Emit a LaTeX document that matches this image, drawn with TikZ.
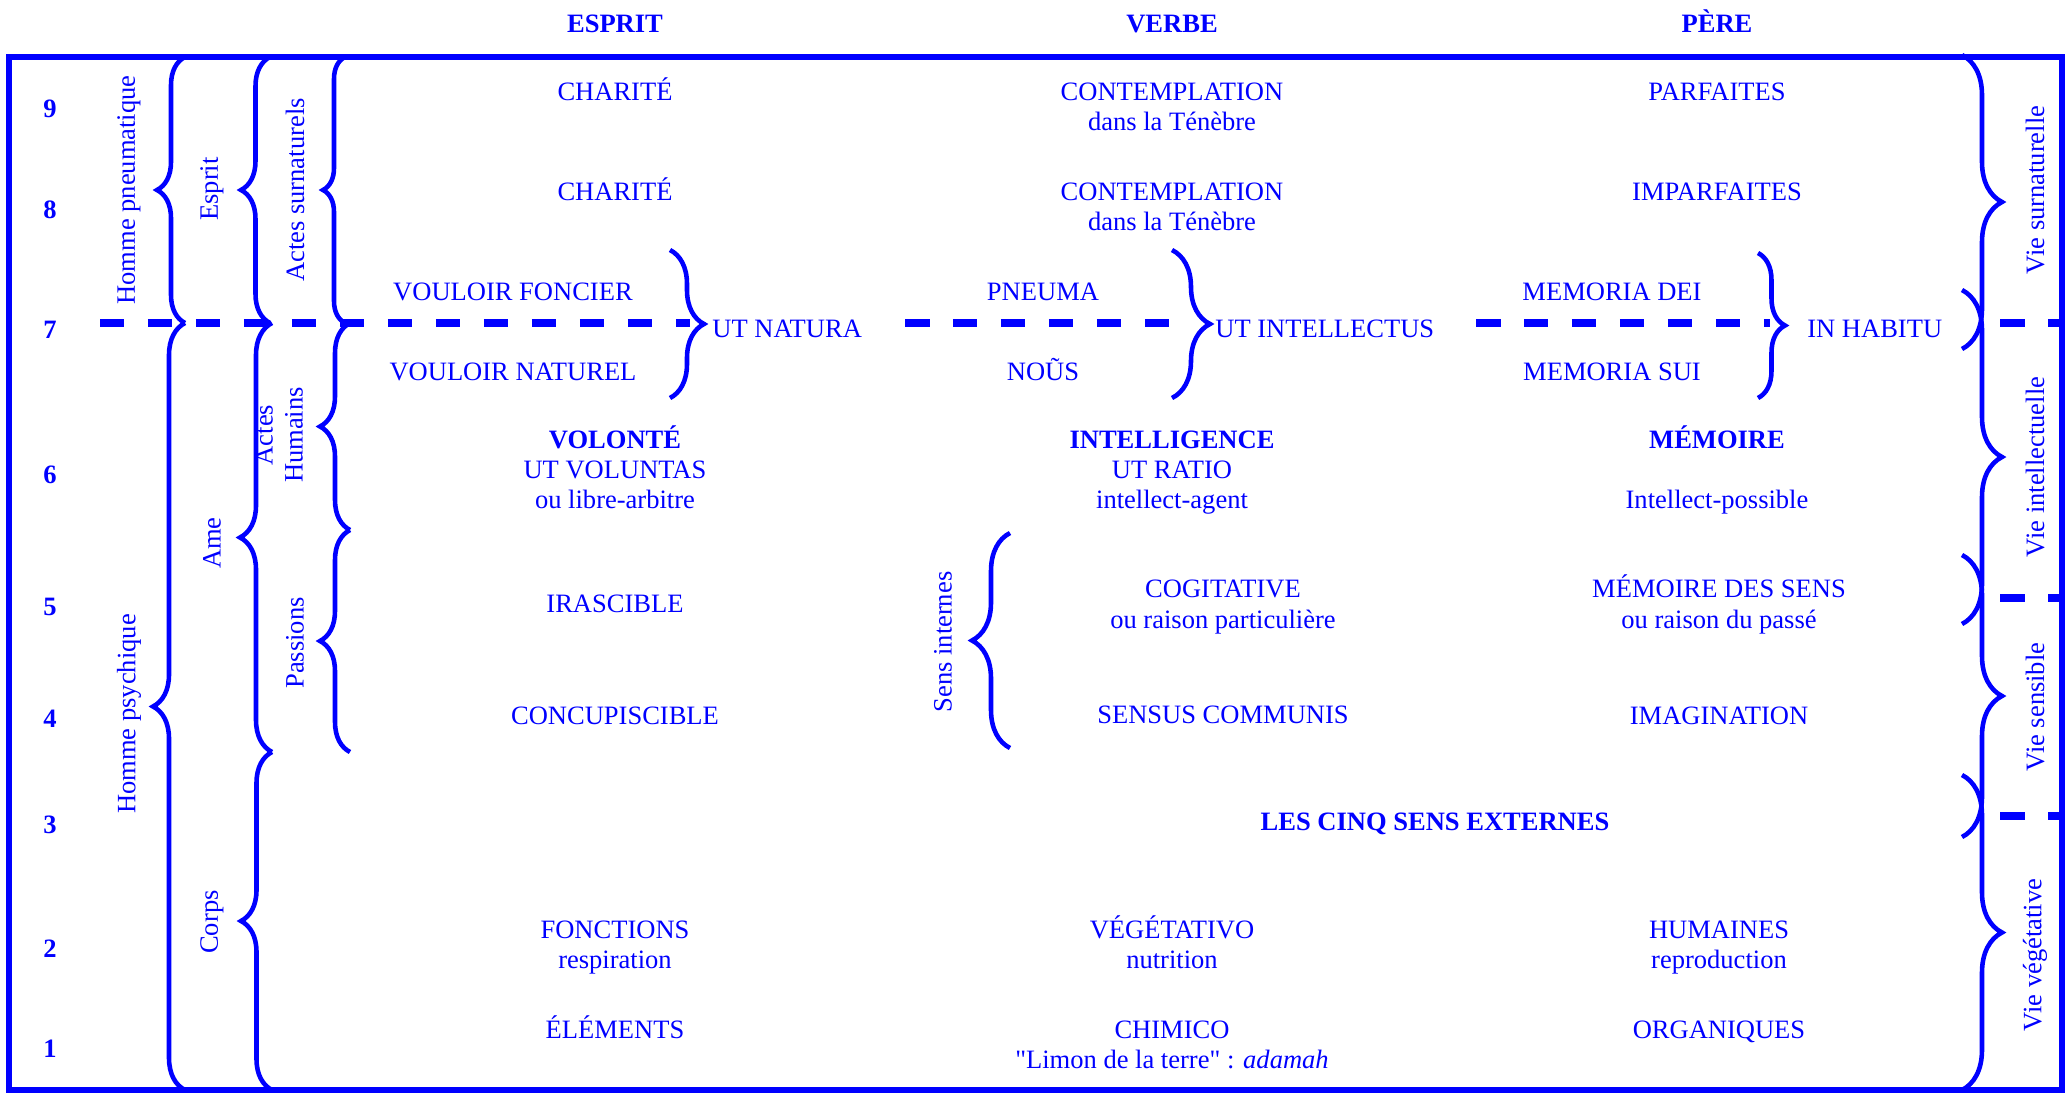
\documentclass[tikz,border=0pt]{standalone}
\usepackage{fontspec}
\setmainfont{Liberation Serif}
\usetikzlibrary{decorations.pathreplacing}

\begin{document}
\begin{tikzpicture}[
    x=0.02cm, y=-0.02cm,
    every node/.style={text=blue, inner sep=0pt, font=\fontsize{15.1pt}{17.07pt}\selectfont},
    txt/.style={anchor=base},
    hd/.style={anchor=base, font=\fontsize{15.1pt}{17.07pt}\selectfont\bfseries},
    side/.style={rotate=90, align=center},
    cadre/.style={draw=blue, line width=3.4pt},
    tiret/.style={draw=blue, line width=4pt, dash pattern=on 0.49cm off 0.47cm},
    acc/.style={draw=blue, line width=2.6pt, decorate, decoration={brace, amplitude=#1}},
    acc/.default=0.6cm
  ]
  \useasboundingbox (0,0) rectangle (2067,1093);

  \draw[cadre] (9,1090) -- (9,57) -- (2062,57) -- (2062,1090) -- cycle;

  \draw[tiret] (100,323) -- (690,323);
  \draw[tiret] (905,323) -- (1172,323);
  \draw[tiret] (1476,323) -- (1770,323);
  \draw[tiret] (2000,323) -- (2062,323);
  \draw[tiret] (2000,598) -- (2062,598);
  \draw[tiret] (2000,816) -- (2062,816);

  \node[hd] (tE) at (615,32) {ESPRIT};
  \node[hd] (tV) at (1172,32) {VERBE};
  \node[hd] (tP) at (1717,32) {PÈRE};

  \foreach \n/\y in {9/117,8/218,7/338,6/483,5/615,4/727,3/833,2/957,1/1057}
    \node[hd] (n\n) at (50,\y) {\n};

  \draw[acc=0.56cm] (185,323) -- (185,57);
  \draw[acc=0.64cm] (185,1090) -- (185,323);
  \draw[acc=0.58cm] (270,323) -- (270,57);
  \draw[acc=0.64cm] (272,752) -- (272,323);
  \draw[acc=0.62cm] (272,1090) -- (272,752);
  \draw[acc=0.44cm] (345,323) -- (345,57);
  \draw[acc=0.6cm] (350,530) -- (350,323);
  \draw[acc=0.6cm] (350,752) -- (350,530);
  \draw[acc=0.76cm] (1010,748) -- (1010,533);
  \draw[acc=0.68cm] (670,250) -- (670,398);
  \draw[acc=0.76cm] (1172,250) -- (1172,398);
  \draw[acc=0.54cm] (1758,253) -- (1758,398);
  \draw[acc=0.8cm] (1962,55) -- (1962,349);
  \draw[acc=0.8cm] (1962,290) -- (1962,624);
  \draw[acc=0.8cm] (1962,555) -- (1962,837);
  \draw[acc=0.8cm] (1962,775) -- (1962,1090);

  \node[side] (hpn) at (129,190) {Homme pneumatique};
  \node[side] (hps) at (129,714) {Homme psychique};
  \node[side] (esp) at (212,189) {Esprit};
  \node[side] (ame) at (212,543) {Ame};
  \node[side] (cor) at (212,922) {Corps};
  \node[side] (asu) at (295,190) {Actes surnaturels};
  \node[side] (ahu) at (279,435) {Actes\\Humains};
  \node[side] (pas) at (295,643) {Passions};
  \node[side] (sin) at (943,642) {Sens internes};
  \node[side] (vsu) at (2035,190) {Vie surnaturelle};
  \node[side] (vin) at (2035,467) {Vie intellectuelle};
  \node[side] (vse) at (2035,707) {Vie sensible};
  \node[side] (vve) at (2035,955) {Vie végétative};

  \node[txt] (a9) at (615,100) {CHARITÉ};
  \node[txt] (b9) at (1172,100) {CONTEMPLATION};
  \node[txt] (b9t) at (1172,130) {dans la Ténèbre};
  \node[txt] (c9) at (1717,100) {PARFAITES};

  \node[txt] (a8) at (615,200) {CHARITÉ};
  \node[txt] (b8) at (1172,200) {CONTEMPLATION};
  \node[txt] (b8t) at (1172,230) {dans la Ténèbre};
  \node[txt] (c8) at (1717,200) {IMPARFAITES};

  \node[txt] (a7h) at (513,300) {VOULOIR FONCIER};
  \node[txt] (a7b) at (513,380) {VOULOIR NATUREL};
  \node[txt] (b7h) at (1043,300) {PNEUMA};
  \node[txt] (b7b) at (1043,380) {NOŨS};
  \node[txt] (c7h) at (1612,300) {MEMORIA DEI};
  \node[txt] (c7b) at (1612,380) {MEMORIA SUI};
  \node[txt, anchor=base west] (utn) at (712,337) {UT NATURA};
  \node[txt, anchor=base west] (uti) at (1215,337) {UT INTELLECTUS};
  \node[txt, anchor=base west] (inh) at (1807,337) {IN HABITU};

  \node[hd] (a6) at (615,448) {VOLONTÉ};
  \node[txt] (a6u) at (615,478) {UT VOLUNTAS};
  \node[txt] (a6l) at (615,508) {ou libre-arbitre};
  \node[hd] (b6) at (1172,448) {INTELLIGENCE};
  \node[txt] (b6u) at (1172,478) {UT RATIO};
  \node[txt] (b6l) at (1172,508) {intellect-agent};
  \node[hd] (c6) at (1717,448) {MÉMOIRE};
  \node[txt] (c6l) at (1717,508) {Intellect-possible};

  \node[txt] (a5) at (615,612) {IRASCIBLE};
  \node[txt] (b5) at (1223,597) {COGITATIVE};
  \node[txt] (b5l) at (1223,628) {ou raison particulière};
  \node[txt] (c5) at (1719,597) {MÉMOIRE DES SENS};
  \node[txt] (c5l) at (1719,628) {ou raison du passé};

  \node[txt] (a4) at (615,724) {CONCUPISCIBLE};
  \node[txt] (b4) at (1223,723) {SENSUS COMMUNIS};
  \node[txt] (c4) at (1719,724) {IMAGINATION};

  \node[hd] (ext) at (1435,830) {LES CINQ SENS EXTERNES};

  \node[txt] (a2) at (615,938) {FONCTIONS};
  \node[txt] (a2l) at (615,968) {respiration};
  \node[txt] (b2) at (1172,938) {VÉGÉTATIVO};
  \node[txt] (b2l) at (1172,968) {nutrition};
  \node[txt] (c2) at (1719,938) {HUMAINES};
  \node[txt] (c2l) at (1719,968) {reproduction};

  \node[txt] (a1) at (615,1038) {ÉLÉMENTS};
  \node[txt] (b1) at (1172,1038) {CHIMICO};
  \node[txt] (b1l) at (1172,1068) {\textquotedbl Limon de la terre\textquotedbl{} : \textit{adamah}};
  \node[txt] (c1) at (1719,1038) {ORGANIQUES};
\end{tikzpicture}
\end{document}
